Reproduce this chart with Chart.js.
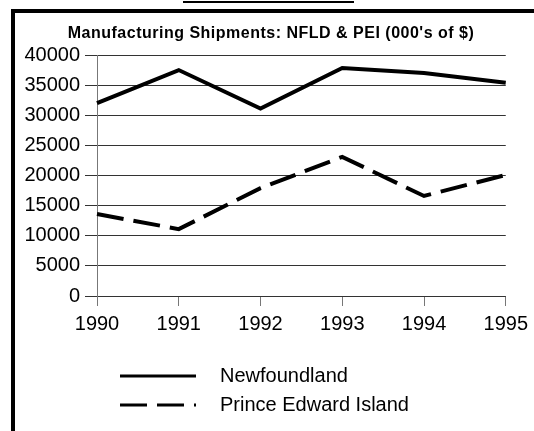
<!DOCTYPE html>
<html>
<head>
<meta charset="utf-8">
<script src="https://cdn.jsdelivr.net/npm/chart.js@4"></script>
<style>
    html, body { margin: 0; padding: 0; background: #fff; }
    #wrap { position: relative; width: 534px; height: 431px; overflow: hidden; }
    #topRule { position: absolute; left: 183px; top: 1px; width: 171px; height: 2px; background: #000; }
    #frame { position: absolute; left: 11px; top: 9px; width: 540px; height: 440px;
             border-left: 4px solid #000; border-top: 4px solid #000; }
    canvas { position: absolute; left: 0; top: 0; }
</style>
</head>
<body>
<div id="wrap">
    <div id="topRule"></div>
    <div id="frame"></div>
    <canvas id="shipments" width="534" height="431"></canvas>
</div>
<script>
// data
const years = ['1990', '1991', '1992', '1993', '1994', '1995'];
const newfoundland = [32000, 37500, 31100, 37850, 37000, 35400];
const princeEdward = [13600, 11100, 17900, 23100, 16600, 20100];
const yTicks = [0, 5000, 10000, 15000, 20000, 25000, 30000, 35000, 40000];
const chartTitle = "Manufacturing Shipments: NFLD & PEI (000's of $)";

const FONT = "'Liberation Sans', Arial, sans-serif";

// title and legend drawn by hand, the way the original sheet lays them out
const decorations = {
    id: 'decorations',
    afterDraw(chart) {
        const ctx = chart.ctx;
        ctx.save();
        ctx.fillStyle = '#000';
        ctx.font = 'bold 16px ' + FONT;
        ctx.letterSpacing = '0.5px';
        ctx.textAlign = 'center';
        ctx.textBaseline = 'alphabetic';
        ctx.fillText(chartTitle, 271, 38);
        ctx.letterSpacing = '0px';

        chart.data.datasets.forEach((ds, i) => {
            const y = 376 + i * 29;
            ctx.beginPath();
            ctx.lineWidth = 3;
            ctx.strokeStyle = '#000';
            ctx.setLineDash(ds.borderDash || []);
            ctx.moveTo(120, y);
            ctx.lineTo(196, y);
            ctx.stroke();
            ctx.setLineDash([]);
            ctx.font = '20px ' + FONT;
            ctx.textAlign = 'left';
            ctx.textBaseline = 'middle';
            ctx.fillText(ds.label, 220, y);
        });
        ctx.restore();
    }
};

const ctx = document.getElementById('shipments').getContext('2d');
new Chart(ctx, {
    type: 'line',
    data: {
        labels: years,
        datasets: [{
            label: 'Newfoundland',
            data: newfoundland,
            borderColor: '#000',
            borderWidth: 4,
            pointRadius: 0,
            tension: 0,
            fill: false
        }, {
            label: 'Prince Edward Island',
            data: princeEdward,
            borderColor: '#000',
            borderWidth: 4,
            borderDash: [27, 10],
            pointRadius: 0,
            tension: 0,
            fill: false
        }]
    },
    options: {
        responsive: false,
        animation: false,
        layout: { padding: { top: 55, right: 26, bottom: 95, left: 0 } },
        plugins: {
            legend: { display: false },
            title: { display: false },
            tooltip: { enabled: false }
        },
        scales: {
            x: {
                offset: false,
                afterFit: function (scale) { scale.height = 40; },
                grid: { drawOnChartArea: false, tickLength: 10, color: '#777', lineWidth: 1 },
                border: { display: false },
                ticks: { color: '#000', font: { family: FONT, size: 20 }, padding: 6, maxRotation: 0 }
            },
            y: {
                min: 0,
                max: 40000,
                afterFit: function (scale) { scale.width = 97; },
                afterBuildTicks: function (scale) { scale.ticks = yTicks.map(v => ({ value: v })); },
                grid: { color: '#333', lineWidth: 1, tickLength: 12 },
                border: { display: true, color: '#777', width: 1 },
                ticks: {
                    color: '#000',
                    font: { family: FONT, size: 20 },
                    padding: 5,
                    callback: function (value) { return String(value); }
                }
            }
        }
    },
    plugins: [decorations]
});
</script>
</body>
</html>
